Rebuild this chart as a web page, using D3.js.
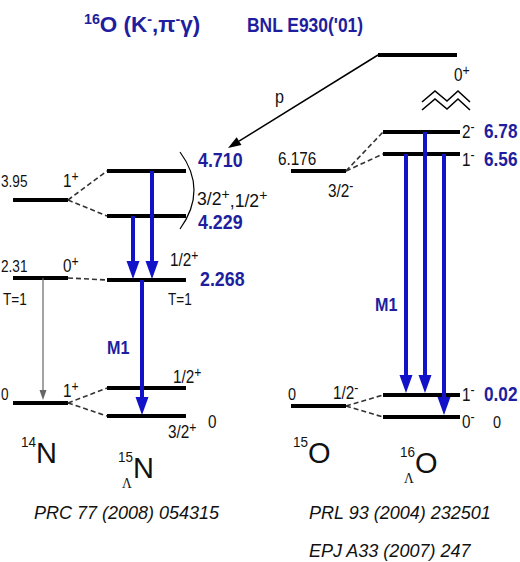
<!DOCTYPE html>
<html>
<head>
<meta charset="utf-8">
<script src="https://cdn.jsdelivr.net/npm/d3@7"></script>
<style>
  body { margin: 0; background: #fff; }
  svg { display: block; font-family: 'Liberation Sans', Arial, sans-serif; }
</style>
</head>
<body>
<svg id="chart" width="520" height="562"></svg>
<script>
// 14N core levels
const n14Energy = [0, 2.31, 3.95];
const n14Label = ['0', '2.31', '3.95'];
const n14Spin = ['1+', '0+', '1+'];

// 15_Lambda N levels (upper ground-doublet member has no measured energy)
const hnEnergy = [0, null, 2.268, 4.229, 4.710];
const hnLabel = ['0', '', '2.268', '4.229', '4.710'];
const hnSpin = ['3/2+', '1/2+', '1/2+', '', ''];
const hnCore = [0, 0, 1, 2, 2];
const hnGammaFrom = [4, 3, 2];
const hnGammaTo = [2, 2, 0];

// 15O core levels
const o15Energy = [0, 6.176];
const o15Label = ['0', '6.176'];
const o15Spin = ['1/2-', '3/2-'];

// 16_Lambda O levels
const hoEnergy = [0, 0.02, 6.56, 6.78];
const hoLabel = ['0', '0.02', '6.56', '6.78'];
const hoSpin = ['0-', '1-', '1-', '2-'];
const hoCore = [0, 0, 1, 1];
const hoGammaFrom = [2, 2, 3];
const hoGammaTo = [0, 1, 1];

const refsLeft = ['PRC 77 (2008) 054315'];
const refsRight = ['PRL 93 (2004) 232501', 'EPJ A33 (2007) 247'];

// ---- layout ----
const BLUE_TXT = '#1e1e9e';
const BLUE = '#1212c8';
const DOUBLET = 28;

const xN14 = [13, 68], xHN = [107, 186], xO15 = [291, 346], xHO = [383, 460];
const hnArrowX = [152, 133, 142];
const hoArrowX = [444, 406, 425];

const yN14 = d3.scaleLinear().domain([0, 2.31, 3.95]).range([403, 278, 200]);
const yHN = d3.scaleLinear().domain([0, 2.268, 4.229, 4.710]).range([416, 280, 216, 171]);
const yO15 = d3.scaleLinear().domain([0, 6.176]).range([406, 171]);
const yHO = d3.scaleLinear().domain([0, 0.02, 6.56, 6.78]).range([417, 395, 154, 132]);

const hnY = i => hnEnergy[i] == null ? yHN(0) - DOUBLET : yHN(hnEnergy[i]);
const hoY = i => yHO(hoEnergy[i]);

const svg = d3.select('#chart');

// text helper with superscript parity signs and optional horizontal squeeze
function label(x, y, s, o = {}) {
  const t = svg.append('text')
    .attr('transform', `translate(${x},${y}) scale(${o.sx || 0.85},1)`)
    .attr('font-size', o.size || 17)
    .attr('font-weight', o.bold ? 'bold' : null)
    .attr('font-style', o.italic ? 'italic' : null)
    .attr('font-family', o.family || null)
    .attr('text-anchor', o.anchor || 'start')
    .attr('fill', o.color || '#111');
  let raised = false;
  s.split(/([+-])/).filter(p => p !== '').forEach(p => {
    if (p === '+' || p === '-') {
      t.append('tspan').attr('dy', raised ? 0 : '-0.42em').attr('font-size', '0.8em').text(p);
      raised = true;
    } else {
      t.append('tspan').attr('dy', raised ? '0.42em' : 0).text(p);
      raised = false;
    }
  });
  return t;
}

function level(x, y, w) {
  svg.append('line').attr('x1', x[0]).attr('x2', x[1]).attr('y1', y).attr('y2', y)
    .attr('stroke', '#000').attr('stroke-width', w || 4);
}

function dashed(x1, y1, x2, y2) {
  svg.append('line').attr('x1', x1).attr('y1', y1).attr('x2', x2).attr('y2', y2)
    .attr('stroke', '#333').attr('stroke-width', 1.6).attr('stroke-dasharray', '5,3');
}

function arrow(x1, y1, x2, y2, color, width, hl, hw) {
  const a = Math.atan2(y2 - y1, x2 - x1);
  const bx = x2 - hl * Math.cos(a), by = y2 - hl * Math.sin(a);
  svg.append('line').attr('x1', x1).attr('y1', y1).attr('x2', bx).attr('y2', by)
    .attr('stroke', color).attr('stroke-width', width);
  const px = -Math.sin(a) * hw / 2, py = Math.cos(a) * hw / 2;
  svg.append('path')
    .attr('d', `M${x2},${y2}L${bx + px},${by + py}L${bx - px},${by - py}Z`)
    .attr('fill', color);
}

// ---- title ----
const title = svg.append('text').attr('transform', 'translate(84,32) scale(1.02,1)')
  .attr('font-size', 22).attr('font-weight', 'bold').attr('fill', BLUE_TXT);
title.append('tspan').attr('font-size', 14).attr('dy', -8).text('16');
title.append('tspan').attr('dy', 8).text('O (K');
title.append('tspan').attr('font-size', 14).attr('dy', -8).text('-');
title.append('tspan').attr('dy', 8).text(',π');
title.append('tspan').attr('font-size', 14).attr('dy', -8).text('-');
title.append('tspan').attr('dy', 8).text('γ)');
svg.append('text').attr('transform', 'translate(247,32) scale(0.83,1)')
  .attr('font-size', 21).attr('font-weight', 'bold').attr('fill', BLUE_TXT)
  .text("BNL E930('01)");

// ---- 16O target ground state and proton removal ----
const yTop = 55;
level([378, 457], yTop);
label(454, 81, '0+', { size: 18 });
[0, 8].forEach(d => {
  svg.append('polyline')
    .attr('points', [[422, 102 + d], [435, 91 + d], [447, 101 + d], [458, 91 + d], [470, 102 + d]].join(' '))
    .attr('fill', 'none').attr('stroke', '#000').attr('stroke-width', 1.6);
});
arrow(378, yTop, 228, 148, '#000', 1.5, 13, 9);
label(275, 103, 'p', { size: 19 });

// ---- 14N ----
n14Energy.forEach((e, i) => level(xN14, yN14(e), 4));
const n14Dy = [-3, -6, -13];
n14Energy.forEach((e, i) => {
  label(1, yN14(e) + n14Dy[i], n14Label[i], { size: 16 });
  label(63, yN14(e) + n14Dy[i] - (i === 0 ? 3 : 0), n14Spin[i], { size: 18 });
});
label(3, 305, 'T=1', { size: 16 });
arrow(43, yN14(2.31), 43, yN14(0) - 3, '#666', 1.2, 10, 7);

// ---- 15ΛN ----
hnEnergy.forEach((e, i) => level(xHN, hnY(i), 4));
hnEnergy.forEach((e, i) => dashed(xN14[1], yN14(n14Energy[hnCore[i]]), xHN[0], hnY(i)));
hnGammaFrom.forEach((f, k) => {
  arrow(hnArrowX[k], hnY(f), hnArrowX[k], hnY(hnGammaTo[k]) - 1, BLUE, 4, 18, 13);
});
const blueNum = { size: 21, bold: true, color: BLUE_TXT, sx: 0.85 };
label(198, 167, hnLabel[4], blueNum);
label(198, 229, hnLabel[3], blueNum);
label(197, 205, '3/2+,1/2+', { size: 18, sx: 0.98 });
svg.append('path').attr('d', 'M180,152 Q208,190 180,229')
  .attr('fill', 'none').attr('stroke', '#000').attr('stroke-width', 1.2);
label(170, 266, hnSpin[2], { size: 18 });
label(200, 286, hnLabel[2], blueNum);
label(168, 305, 'T=1', { size: 16 });
label(173, 383, hnSpin[1], { size: 18 });
label(168, 438, hnSpin[0], { size: 18 });
label(208, 428, hnLabel[0], { size: 18 });
label(107, 354, 'M1', { size: 19, bold: true, color: BLUE_TXT });

// ---- 15O ----
o15Energy.forEach(e => level(xO15, yO15(e), 4));
label(278, 165, o15Label[1], { size: 18 });
label(328, 197, o15Spin[1], { size: 18 });
label(288, 400, o15Label[0], { size: 17 });
label(333, 399, o15Spin[0], { size: 18 });

// ---- 16ΛO ----
hoEnergy.forEach((e, i) => level(xHO, hoY(i), 4));
hoEnergy.forEach((e, i) => dashed(xO15[1], yO15(o15Energy[hoCore[i]]), xHO[0], hoY(i)));
hoGammaFrom.forEach((f, k) => {
  arrow(hoArrowX[k], hoY(f), hoArrowX[k], hoY(hoGammaTo[k]) - 2, BLUE, 4, 18, 13);
});
const hoDy = [11, 6, 12, 6];
hoEnergy.forEach((e, i) => {
  label(462, hoY(i) + hoDy[i], hoSpin[i], { size: 18 });
  if (i === 0) label(493, hoY(i) + hoDy[i], hoLabel[i], { size: 17 });
  else label(484, hoY(i) + hoDy[i], hoLabel[i], { ...blueNum, sx: 0.82 });
});
label(375, 311, 'M1', { size: 19, bold: true, color: BLUE_TXT });

// ---- nucleus names ----
function nucleus(x, y, mass, sym, lambda) {
  label(x - 1, y - 16, mass, { size: 15, sx: 0.9 });
  label(x + 14, y, sym, { size: 29, sx: 1 });
  if (lambda) label(x + 3, y + 10, 'Λ', { size: 15, sx: 0.9, family: "'Liberation Serif', serif" });
}
nucleus(22, 463, '14', 'N', false);
nucleus(119, 478, '15', 'N', true);
nucleus(294, 463, '15', 'O', false);
nucleus(401, 473, '16', 'O', true);

// ---- references ----
refsLeft.forEach((r, i) => label(34, 519 + i * 38, r, { size: 18, italic: true, sx: 1 }));
refsRight.forEach((r, i) => label(309, 519 + i * 38, r, { size: 18, italic: true, sx: 1 }));
</script>
</body>
</html>
